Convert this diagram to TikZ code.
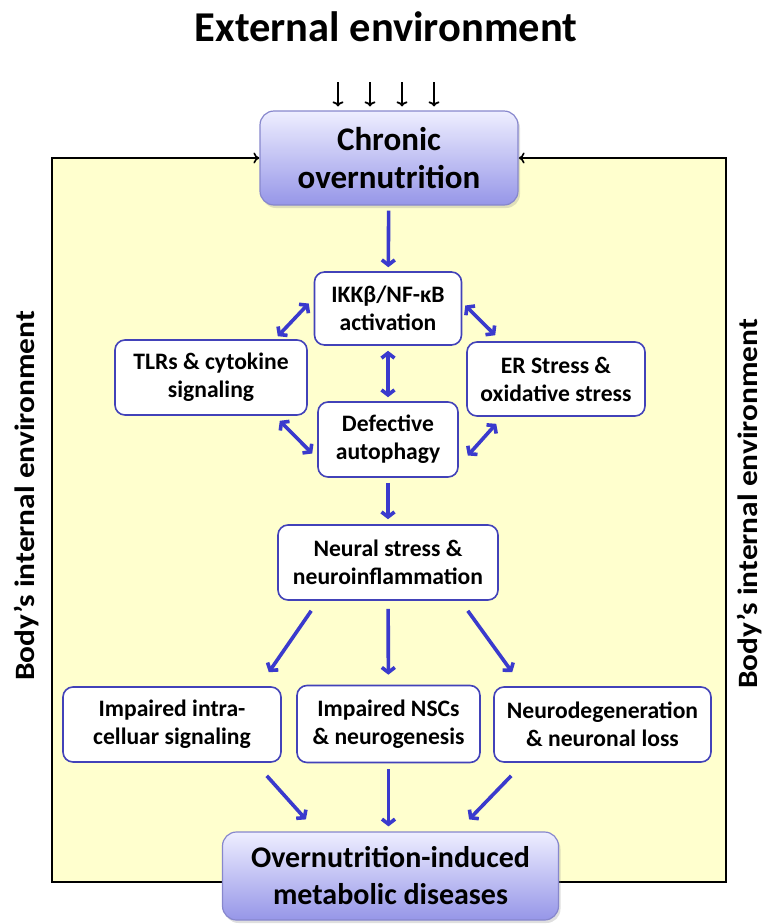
\documentclass[tikz,border=0pt]{standalone}
\usepackage{fontspec}
\setmainfont{Carlito}
\usepackage{tikz}
\usetikzlibrary{arrows.meta,backgrounds,shadows}
\usepackage{xcolor}
\definecolor{bodyyellow}{RGB}{255,255,206}
\definecolor{linkblue}{RGB}{58,58,205}
\definecolor{boxblue}{RGB}{66,66,185}
\definecolor{lavtop}{RGB}{238,238,255}
\definecolor{lavbot}{RGB}{150,150,232}
\definecolor{lavedge}{RGB}{135,135,205}

\begin{document}
\begin{tikzpicture}[x=1pt,y=-1pt,
  box/.style={draw=boxblue,line width=1.6pt,fill=white,rounded corners=10pt,
    align=center,inner sep=2pt,font=\bfseries\fontsize{23.6}{28}\selectfont},
  bigbox/.style={draw=lavedge,line width=1.2pt,top color=lavtop,bottom color=lavbot,
    rounded corners=14pt,align=center,inner sep=2pt,
    drop shadow={opacity=0.25,shadow xshift=2pt,shadow yshift=-3pt},
    font=\bfseries\fontsize{30}{37}\selectfont},
  flow/.style={draw=linkblue,line width=3.6pt,-{Straight Barb[length=5pt,width=13pt]}},
  both/.style={flow,{Straight Barb[length=5pt,width=13pt]}-{Straight Barb[length=5pt,width=13pt]}},
  ext/.style={draw=black,line width=1.8pt,-{To[length=5pt,width=11pt]}},
  label/.style={inner sep=0pt,font=\bfseries\fontsize{28}{32}\selectfont}]
\useasboundingbox (0,0) rectangle (764,924);

%%%TITLES
\node[label,font=\bfseries\fontsize{42.5}{46}\selectfont] (outer) at (386,27) {External environment};
\node[label,rotate=90,xscale=1.12] (inleft) at (27,496) {Body’s internal environment};
\node[label,rotate=90,xscale=1.12] (inright) at (750,504) {Body’s internal environment};

%%%BOXES
\node[bigbox,minimum width=258pt,minimum height=94pt,
  font=\bfseries\fontsize{33}{38}\selectfont] (chronic) at (389,158) {Chronic\\overnutrition};
\node[box,minimum width=147pt,minimum height=73pt] (ikk) at (388,308.5) {IKKβ/NF-κB\\activation};
\node[box,minimum width=192pt,minimum height=75pt] (tlrs) at (211,377.5) {TLRs \& cytokine\\signaling};
\node[box,minimum width=178pt,minimum height=74pt] (er) at (556,379) {ER Stress \&\\oxidative stress};
\node[box,minimum width=140pt,minimum height=75pt] (def) at (388,439.5) {Defective\\autophagy};
\node[box,minimum width=220pt,minimum height=75pt] (neural) at (388,562.5) {Neural stress \&\\neuroinflammation};
\node[box,minimum width=218pt,minimum height=75pt] (intra) at (172,724.5) {Impaired intra-\\celluar signaling};
\node[box,minimum width=183pt,minimum height=77pt] (nsc) at (388.5,724) {Impaired NSCs\\\& neurogenesis};
\node[box,minimum width=217pt,minimum height=75pt] (neuro) at (602.5,724.5) {Neurodegeneration\\\& neuronal loss};
\node[bigbox,minimum width=336pt,minimum height=88pt] (over) at (390.5,876) {Overnutrition-induced\\metabolic diseases};

%%%BODY FRAME
\coordinate (ftl) at (52,158);
\coordinate (fbl) at (52,882);
\coordinate (fbr) at (726,882);
\coordinate (ftr) at (726,158);
\begin{scope}[on background layer]
\fill[bodyyellow] (ftl) rectangle (fbr);
\draw[line width=1.6pt,{To[length=6pt,width=11pt]}-{To[length=6pt,width=11pt]}]
  (chronic.west) -- (ftl) -- (fbl) -- (fbr) -- (ftr) -- (chronic.east);
\end{scope}

%%%EXTERNAL INPUTS
\foreach \i/\x in {1/338,2/370,3/402,4/434}{
  \coordinate (e\i) at (\x,82);
  \draw[ext,shorten >=4pt] (e\i) -- (e\i |- chronic.north);
}

%%%LINKS
\draw[flow,shorten <=5pt,shorten >=4pt] (chronic) -- (ikk);
\draw[both] ([xshift=-5pt,yshift=5pt]ikk.west) -- ([xshift=-30pt,yshift=3pt]tlrs.north east);
\draw[both] ([xshift=3pt,yshift=3pt]ikk.east) -- ([xshift=29pt,yshift=6pt]er.north west);
\draw[both,shorten <=5pt,shorten >=4pt] (ikk) -- (def);
\draw[both] ([xshift=-28pt,yshift=-5pt]tlrs.south east) -- ([xshift=-5pt,yshift=-14pt]def.west);
\draw[both] ([xshift=30pt,yshift=-7pt]er.south west) -- ([xshift=9pt,yshift=-16pt]def.east);
\draw[flow,shorten <=5pt,shorten >=5pt] (def) -- (neural);
\draw[flow] ([xshift=34pt,yshift=-10pt]neural.south west) -- ([xshift=-13pt,yshift=14pt]intra.north east);
\draw[flow,shorten <=8pt,shorten >=10pt] (neural) -- (nsc);
\draw[flow] ([xshift=-31pt,yshift=-10pt]neural.south east) -- ([xshift=19pt,yshift=14pt]neuro.north west);
\draw[flow] ([xshift=-15pt,yshift=-13pt]intra.south east) -- ([xshift=84pt,yshift=12pt]over.north west);
\draw[flow,shorten <=6pt,shorten >=5pt] (nsc) -- (nsc |- over.north);
\draw[flow] ([xshift=18pt,yshift=-13pt]neuro.south west) -- ([xshift=-90pt,yshift=12pt]over.north east);
\end{tikzpicture}
\end{document}
